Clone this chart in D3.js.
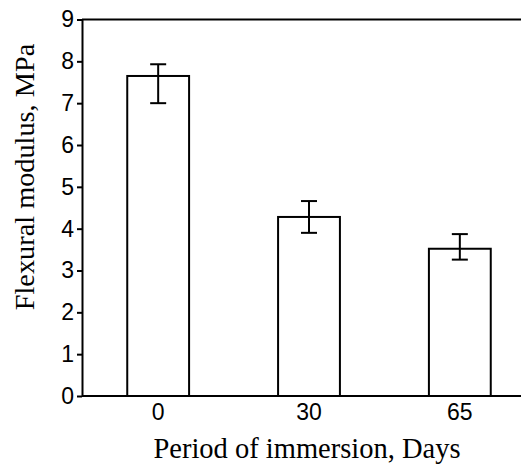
<!DOCTYPE html>
<html>
<head>
<meta charset="utf-8">
<script src="https://cdn.jsdelivr.net/npm/d3@7"></script>
<style>
  body { margin: 0; background: #fff; }
</style>
</head>
<body>
<svg id="chart" width="521" height="472"></svg>
<script>
// data
const days = ["0", "30", "65"];
const modulus = [7.65, 4.28, 3.52];
const errLow = [7.0, 3.90, 3.26];
const errHigh = [7.93, 4.66, 3.87];
const yTicks = [0, 1, 2, 3, 4, 5, 6, 7, 8, 9];

const margin = {top: 19.5, right: 0, bottom: 76, left: 82};
const width = 521, height = 472;

const svg = d3.select("#chart");

const x = d3.scaleBand()
  .domain(days)
  .range([margin.left, width + 15])
  .paddingInner(0.59)
  .paddingOuter(0.3);

const y = d3.scaleLinear()
  .domain([0, 9])
  .range([height - margin.bottom, margin.top]);

// top frame line
svg.append("line")
  .attr("x1", margin.left).attr("x2", width)
  .attr("y1", y(9)).attr("y2", y(9))
  .attr("stroke", "#000").attr("stroke-width", 2);

// bars
svg.append("g")
  .selectAll("rect")
  .data(days)
  .join("rect")
    .attr("x", d => x(d))
    .attr("y", (d, i) => y(modulus[i]))
    .attr("width", x.bandwidth())
    .attr("height", (d, i) => y(0) - y(modulus[i]))
    .attr("fill", "#fff")
    .attr("stroke", "#000")
    .attr("stroke-width", 2);

// error bars
const eb = svg.append("g").attr("stroke", "#000").attr("stroke-width", 2);
days.forEach((d, i) => {
  const cx = x(d) + x.bandwidth() / 2;
  eb.append("line").attr("x1", cx).attr("x2", cx).attr("y1", y(errLow[i])).attr("y2", y(errHigh[i]));
  eb.append("line").attr("x1", cx - 8).attr("x2", cx + 8).attr("y1", y(errLow[i])).attr("y2", y(errLow[i]));
  eb.append("line").attr("x1", cx - 8).attr("x2", cx + 8).attr("y1", y(errHigh[i])).attr("y2", y(errHigh[i]));
});

// y axis
const yAxis = svg.append("g")
  .attr("transform", `translate(${margin.left},0)`)
  .call(d3.axisLeft(y).tickValues(yTicks).tickSize(5).tickSizeOuter(0).tickPadding(3));
yAxis.select(".domain").attr("stroke-width", 2);
yAxis.selectAll(".tick line").attr("stroke-width", 2);
yAxis.selectAll("text")
  .attr("font-family", "Liberation Sans, Arial, sans-serif")
  .attr("font-size", 23)
  .attr("fill", "#000");

// x axis
const xAxis = svg.append("g")
  .attr("transform", `translate(0,${y(0)})`)
  .call(d3.axisBottom(x).tickSize(0).tickPadding(8));
xAxis.select(".domain").attr("stroke-width", 2).attr("d", `M${margin.left},0H${width}`);
xAxis.selectAll("text")
  .attr("font-family", "Liberation Sans, Arial, sans-serif")
  .attr("font-size", 23)
  .attr("fill", "#000");

// axis titles
svg.append("text")
  .attr("x", 307)
  .attr("y", 458)
  .attr("text-anchor", "middle")
  .attr("font-family", "Liberation Serif, Times New Roman, serif")
  .attr("font-size", 28.5)
  .text("Period of immersion, Days");

svg.append("text")
  .attr("transform", `translate(34,177) rotate(-90)`)
  .attr("text-anchor", "middle")
  .attr("font-family", "Liberation Serif, Times New Roman, serif")
  .attr("font-size", 28.3)
  .text("Flexural modulus, MPa");
</script>
</body>
</html>
